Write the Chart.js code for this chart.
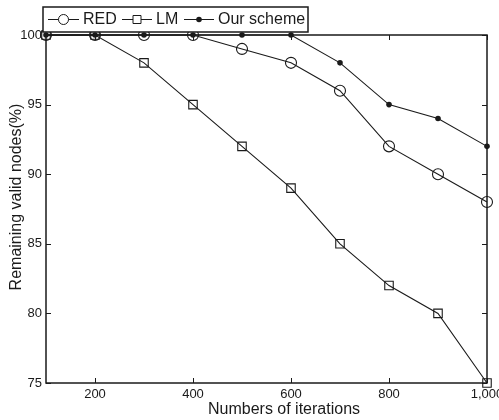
<!DOCTYPE html>
<html>
<head>
<meta charset="utf-8">
<script src="https://cdn.jsdelivr.net/npm/chart.js@4/dist/chart.umd.min.js"></script>
<style>
  html, body { margin: 0; padding: 0; background: #fff; }
  #wrap { width: 499px; height: 420px; }
</style>
</head>
<body>
<div id="wrap"><canvas id="chart" width="499" height="420"></canvas></div>
<script>
// Remaining valid nodes vs iterations

const iterations = [100, 200, 300, 400, 500, 600, 700, 800, 900, 1000];
const redValues = [100, 100, 100, 100, 99, 98, 96, 92, 90, 88];
const lmValues = [100, 100, 98, 95, 92, 89, 85, 82, 80, 75];
const ourValues = [100, 100, 100, 100, 100, 100, 98, 95, 94, 92];

const xTicks = [200, 400, 600, 800, 1000];
const yTicks = [75, 80, 85, 90, 95, 100];

const INK = '#1a1a1a';
const FONT = '"Liberation Sans", Arial, sans-serif';

function toPoints(values) {
  return iterations.map((x, i) => ({ x: x, y: values[i] }));
}

// frame, inward ticks, axis titles and the boxed legend
const decorPlugin = {
  id: 'decor',
  afterDraw(chart) {
    const ctx = chart.ctx;
    const area = chart.chartArea;
    const xs = chart.scales.x;
    const ys = chart.scales.y;
    ctx.save();

    // box frame
    ctx.strokeStyle = INK;
    ctx.lineWidth = 1.5;
    ctx.strokeRect(area.left, area.top, area.right - area.left, area.bottom - area.top);

    // inward ticks
    ctx.lineWidth = 1;
    ctx.beginPath();
    xTicks.forEach(v => {
      const px = Math.round(xs.getPixelForValue(v)) + 0.5;
      ctx.moveTo(px, area.bottom); ctx.lineTo(px, area.bottom - 5);
      ctx.moveTo(px, area.top); ctx.lineTo(px, area.top + 5);
    });
    yTicks.forEach(v => {
      const py = Math.round(ys.getPixelForValue(v)) + 0.5;
      ctx.moveTo(area.left, py); ctx.lineTo(area.left + 5, py);
      ctx.moveTo(area.right, py); ctx.lineTo(area.right - 5, py);
    });
    ctx.stroke();

    // axis titles
    ctx.fillStyle = INK;
    ctx.font = '16px ' + FONT;
    ctx.textAlign = 'center';
    ctx.textBaseline = 'middle';
    ctx.fillText('Numbers of iterations', 284, 410);
    ctx.save();
    ctx.translate(17, 197);
    ctx.rotate(-Math.PI / 2);
    ctx.fillText('Remaining valid nodes(%)', 0, 0);
    ctx.restore();

    // legend box
    ctx.fillStyle = '#fff';
    ctx.fillRect(43, 7, 265, 25);
    ctx.lineWidth = 1.5;
    ctx.strokeRect(43, 7, 265, 25);

    const cy = 19.5;
    const items = [
      { label: chart.data.datasets[0].label, x0: 48, x1: 79, textX: 83, mark: 'circle' },
      { label: chart.data.datasets[1].label, x0: 122, x1: 152, textX: 156, mark: 'square' },
      { label: chart.data.datasets[2].label, x0: 184, x1: 214, textX: 218, mark: 'dot' }
    ];
    items.forEach(it => {
      const mx = (it.x0 + it.x1) / 2;
      ctx.strokeStyle = INK;
      ctx.lineWidth = 1;
      ctx.beginPath();
      ctx.moveTo(it.x0, cy); ctx.lineTo(it.x1, cy);
      ctx.stroke();
      ctx.beginPath();
      if (it.mark === 'circle') {
        ctx.fillStyle = '#fff';
        ctx.arc(mx, cy, 5, 0, Math.PI * 2);
        ctx.fill(); ctx.stroke();
      } else if (it.mark === 'square') {
        ctx.fillStyle = '#fff';
        ctx.rect(mx - 4, cy - 4, 8, 8);
        ctx.fill(); ctx.stroke();
      } else {
        ctx.fillStyle = INK;
        ctx.arc(mx, cy, 2.8, 0, Math.PI * 2);
        ctx.fill();
      }
      ctx.fillStyle = INK;
      ctx.font = '16px ' + FONT;
      ctx.textAlign = 'left';
      ctx.textBaseline = 'middle';
      ctx.fillText(it.label, it.textX, cy + 0.5);
    });

    ctx.restore();
  }
};

const ctx = document.getElementById('chart').getContext('2d');

new Chart(ctx, {
  type: 'line',
  data: {
    datasets: [
      {
        label: 'RED',
        data: toPoints(redValues),
        borderColor: INK,
        backgroundColor: 'rgba(0,0,0,0)',
        borderWidth: 1.1,
        pointStyle: 'circle',
        pointRadius: 5.5,
        pointBorderWidth: 1.1,
        pointBorderColor: INK,
        pointBackgroundColor: 'rgba(0,0,0,0)',
        clip: false,
        order: 3
      },
      {
        label: 'LM',
        data: toPoints(lmValues),
        borderColor: INK,
        backgroundColor: 'rgba(0,0,0,0)',
        borderWidth: 1.1,
        pointStyle: 'rect',
        pointRadius: 6,
        pointBorderWidth: 1.1,
        pointBorderColor: INK,
        pointBackgroundColor: 'rgba(0,0,0,0)',
        clip: false,
        order: 2
      },
      {
        label: 'Our scheme',
        data: toPoints(ourValues),
        borderColor: INK,
        backgroundColor: INK,
        borderWidth: 1.1,
        pointStyle: 'circle',
        pointRadius: 2.8,
        pointBorderWidth: 0,
        pointBackgroundColor: INK,
        clip: false,
        order: 1
      }
    ]
  },
  options: {
    responsive: false,
    animation: false,
    layout: {
      padding: { left: 0, top: 35, right: 12, bottom: 0 }
    },
    plugins: {
      legend: { display: false },
      tooltip: { enabled: false }
    },
    scales: {
      x: {
        type: 'linear',
        min: 100,
        max: 1000,
        grid: { display: false, drawTicks: false },
        border: { display: false },
        afterBuildTicks: scale => {
          scale.ticks = xTicks.map(v => ({ value: v }));
        },
        afterFit: scale => {
          scale.height = 37;
          scale.paddingLeft = 0;
          scale.paddingRight = 0;
        },
        ticks: {
          color: INK,
          font: { family: FONT, size: 13 },
          padding: 4,
          maxRotation: 0,
          autoSkip: false,
          callback: v => v.toLocaleString('en-US')
        }
      },
      y: {
        min: 75,
        max: 100,
        grid: { display: false, drawTicks: false },
        border: { display: false },
        afterBuildTicks: scale => {
          scale.ticks = yTicks.map(v => ({ value: v }));
        },
        afterFit: scale => {
          scale.width = 46;
          scale.paddingTop = 0;
          scale.paddingBottom = 0;
        },
        ticks: {
          color: INK,
          font: { family: FONT, size: 13 },
          padding: 4,
          autoSkip: false
        }
      }
    }
  },
  plugins: [decorPlugin]
});
</script>
</body>
</html>
